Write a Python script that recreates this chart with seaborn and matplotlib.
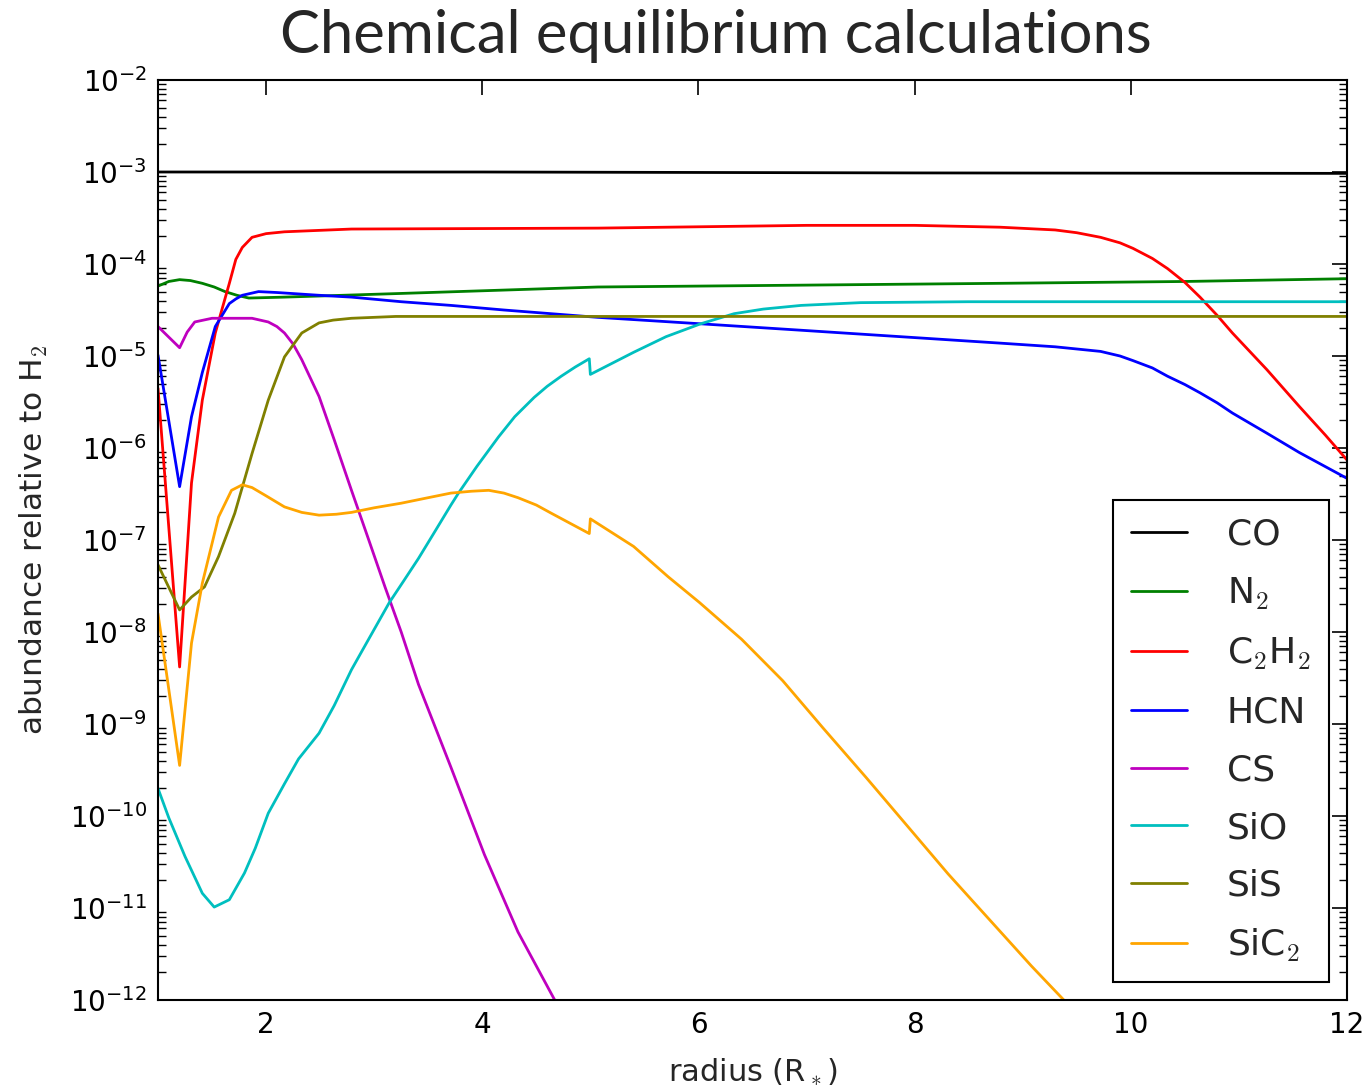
import numpy as np
import pandas as pd
import matplotlib
matplotlib.use("Agg")
import matplotlib.pyplot as plt
import seaborn as sns

# Abundances relative to H2 as log10 values, sampled along radius (stellar radii)
co_r = [1.0, 4.0, 8.0, 12.0]
co_log = [-3.00, -3.00, -3.01, -3.015]

n2_r = [1.0, 1.1, 1.2, 1.3, 1.41, 1.52, 1.62, 1.73, 1.84, 2.17, 3.25, 5.07, 6.95, 8.79, 10.5, 12.0]
n2_log = [-4.24, -4.19, -4.17, -4.18, -4.21, -4.25, -4.30, -4.34, -4.37, -4.36, -4.32, -4.25,
          -4.23, -4.21, -4.19, -4.16]

c2h2_r = [1.0, 1.2, 1.31, 1.41, 1.53, 1.66, 1.72, 1.78, 1.87, 2.0, 2.17, 2.79, 5.07, 7.0, 8.0,
          8.79, 9.3, 9.5, 9.72, 9.9, 10.02, 10.2, 10.34, 10.5, 10.64, 10.8, 10.94, 11.1, 11.26,
          11.56, 11.8, 12.0]
c2h2_log = [-5.35, -8.38, -6.38, -5.48, -4.75, -4.21, -3.95, -3.82, -3.71, -3.67, -3.65, -3.62,
            -3.61, -3.58, -3.58, -3.60, -3.63, -3.66, -3.71, -3.77, -3.83, -3.94, -4.05, -4.20,
            -4.36, -4.56, -4.75, -4.95, -5.15, -5.55, -5.86, -6.13]

hcn_r = [1.0, 1.2, 1.31, 1.41, 1.53, 1.66, 1.72, 1.78, 1.93, 2.1, 2.49, 2.79, 3.25, 3.71, 4.2,
         5.07, 6.02, 6.95, 8.0, 8.79, 9.3, 9.72, 9.9, 10.02, 10.2, 10.34, 10.5, 10.64, 10.8,
         10.94, 11.26, 11.56, 12.0]
hcn_log = [-4.99, -6.42, -5.66, -5.18, -4.68, -4.43, -4.38, -4.34, -4.30, -4.31, -4.34, -4.36,
           -4.41, -4.45, -4.50, -4.58, -4.65, -4.72, -4.80, -4.86, -4.90, -4.95, -5.00, -5.05,
           -5.13, -5.22, -5.31, -5.40, -5.51, -5.62, -5.84, -6.05, -6.33]

cs_r = [1.0, 1.2, 1.27, 1.34, 1.5, 1.87, 2.02, 2.1, 2.17, 2.25, 2.33, 2.49, 2.63, 2.79, 2.95,
        3.10, 3.25, 3.41, 3.71, 4.02, 4.33, 4.67, 4.9]
cs_log = [-4.68, -4.91, -4.74, -4.63, -4.59, -4.59, -4.63, -4.68, -4.75, -4.87, -5.04, -5.44,
          -5.91, -6.46, -7.00, -7.51, -8.00, -8.57, -9.47, -10.42, -11.26, -12.00, -12.45]

sio_r = [1.0, 1.1, 1.25, 1.41, 1.52, 1.66, 1.80, 1.9, 2.02, 2.17, 2.3, 2.49, 2.63, 2.79, 2.9,
         3.14, 3.27, 3.41, 3.55, 3.71, 3.78, 3.95, 4.15, 4.3, 4.48, 4.6, 4.73, 4.86, 4.99, 5.0,
         5.40, 5.7, 6.02, 6.33, 6.6, 6.95, 7.5, 8.5, 12.0]
sio_log = [-9.70, -10.02, -10.44, -10.84, -10.99, -10.91, -10.62, -10.35, -9.97, -9.65, -9.38,
           -9.10, -8.80, -8.41, -8.18, -7.68, -7.45, -7.20, -6.93, -6.62, -6.49, -6.20, -5.88,
           -5.66, -5.45, -5.33, -5.22, -5.12, -5.03, -5.20, -4.96, -4.79, -4.65, -4.54, -4.49,
           -4.45, -4.42, -4.41, -4.41]

sis_r = [1.0, 1.2, 1.31, 1.43, 1.56, 1.71, 1.87, 2.02, 2.17, 2.33, 2.49, 2.62, 2.79, 3.2, 12.0]
sis_log = [-7.27, -7.76, -7.62, -7.51, -7.18, -6.71, -6.06, -5.48, -5.01, -4.75, -4.64, -4.61,
           -4.59, -4.57, -4.57]

sic2_r = [1.0, 1.2, 1.31, 1.41, 1.56, 1.68, 1.78, 1.87, 2.0, 2.17, 2.33, 2.49, 2.65, 2.79, 3.0,
          3.25, 3.5, 3.71, 3.9, 4.06, 4.2, 4.33, 4.5, 4.64, 4.99, 5.0, 5.40, 5.72, 6.01, 6.4,
          6.78, 7.15, 7.55, 8.31, 9.08, 9.38, 9.6]
sic2_log = [-7.80, -9.45, -8.12, -7.47, -6.75, -6.46, -6.40, -6.43, -6.52, -6.64, -6.70, -6.73,
            -6.72, -6.70, -6.65, -6.60, -6.54, -6.49, -6.47, -6.46, -6.49, -6.54, -6.62, -6.71,
            -6.93, -6.77, -7.07, -7.40, -7.68, -8.08, -8.53, -9.04, -9.58, -10.63, -11.63,
            -12.0, -12.3]

species = ["CO", "N$_2$", "C$_2$H$_2$", "HCN", "CS", "SiO", "SiS", "SiC$_2$"]
colors = ["#000000", "#008000", "#FF0000", "#0000FF", "#BF00BF", "#00BFBF", "#808000", "#FFA500"]
series = [(co_r, co_log), (n2_r, n2_log), (c2h2_r, c2h2_log), (hcn_r, hcn_log),
          (cs_r, cs_log), (sio_r, sio_log), (sis_r, sis_log), (sic2_r, sic2_log)]

rows = []
for name, (r, lg) in zip(species, series):
    for ri, li in zip(r, lg):
        rows.append({"radius": ri, "abundance": 10.0 ** li, "species": name})
df = pd.DataFrame(rows)

sns.set_theme(style="white")
plt.rcParams["font.family"] = ["DejaVu Sans"]
plt.rcParams["mathtext.fontset"] = "cm"

fig = plt.figure(figsize=(13.69, 10.90), dpi=100)
ax = fig.add_axes([158 / 1369, 90 / 1090, (1347 - 158) / 1369, 920 / 1090])

sns.lineplot(data=df, x="radius", y="abundance", hue="species", hue_order=species,
             palette=dict(zip(species, colors)), estimator=None, sort=False,
             linewidth=2, ax=ax)

ax.set_yscale("log")
ax.set_xlim(1, 12)
ax.set_ylim(1e-12, 1e-2)
ax.set_xticks([2, 4, 6, 8, 10, 12])
ax.set_yticks([10.0 ** k for k in range(-12, -1)])
ax.yaxis.set_minor_locator(matplotlib.ticker.LogLocator(base=10, subs=np.arange(2, 10), numticks=20))
ax.yaxis.set_minor_formatter(matplotlib.ticker.NullFormatter())

for s in ax.spines.values():
    s.set_color("black")
    s.set_linewidth(1.5)
ax.tick_params(which="major", direction="in", length=11, width=1.2, top=True, right=True,
               labelsize=20, colors="black", pad=8)
ax.tick_params(which="minor", direction="in", length=6, width=1.0, left=True, right=True,
               colors="black")

ax.set_xlabel("radius (R$_*$)", fontsize=22, labelpad=13)
ax.set_ylabel("abundance relative to H$_2$", fontsize=22.5, labelpad=14)

leg = ax.legend(loc="lower right", fontsize=26, frameon=True, fancybox=False,
                edgecolor="black", framealpha=1, handlelength=1.55, handletextpad=1.1,
                labelspacing=0.66, borderpad=0.5, borderaxespad=0.5)
leg.get_frame().set_linewidth(1.5)
for line in leg.get_lines():
    line.set_linewidth(2)

fig.text(716 / 1369, 1 - 36 / 1090, "Chemical equilibrium calculations",
         ha="center", va="center", fontsize=43, family=["Lato", "DejaVu Sans"])

fig.savefig("out.png", dpi=100)
